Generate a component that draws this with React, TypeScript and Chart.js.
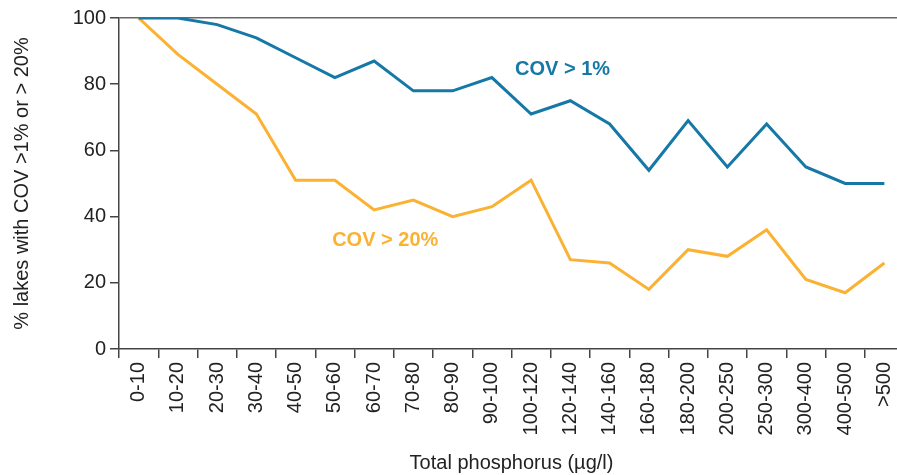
import React, { useEffect, useRef } from "react";
import { Chart, registerables } from "chart.js";

Chart.register(...registerables);

const categories = [
  "0-10", "10-20", "20-30", "30-40", "40-50", "50-60", "60-70", "70-80", "80-90", "90-100",
  "100-120", "120-140", "140-160", "160-180", "180-200", "200-250", "250-300", "300-400", "400-500", ">500",
];
const cov1 = [100, 100, 98, 94, 88, 82, 87, 78, 78, 82, 71, 75, 68, 54, 69, 55, 68, 55, 50, 50];
const cov20 = [100, 89, 80, 71, 51, 51, 42, 45, 40, 43, 51, 27, 26, 18, 30, 28, 36, 21, 17, 26];
const yTicks = [0, 20, 40, 60, 80, 100];

const BLUE = "#1578a6";
const ORANGE = "#fbb131";
const FONT = "'Liberation Sans', Arial, Helvetica, sans-serif";

// annotation anchors in data space (category index, value)
const seriesLabels = [
  { text: "COV > 1%", idx: 9.59, val: 84.3, color: BLUE },
  { text: "COV > 20%", idx: 4.93, val: 32.9, color: ORANGE },
];

const labelPlugin = {
  id: "seriesLabels",
  afterDatasetsDraw(chart: any) {
    const { ctx, scales } = chart;
    ctx.save();
    ctx.font = `bold 20px ${FONT}`;
    ctx.textAlign = "left";
    ctx.textBaseline = "middle";
    for (const l of seriesLabels) {
      ctx.fillStyle = l.color;
      ctx.fillText(l.text, scales.x.getPixelForValue(l.idx), scales.y.getPixelForValue(l.val));
    }
    ctx.restore();
  },
};

export default function App() {
  const ref = useRef<HTMLCanvasElement>(null);
  useEffect(() => {
    if (!ref.current) return;
    const chart = new Chart(ref.current, {
      type: "line",
      data: {
        labels: categories,
        datasets: [
          { label: "COV > 1%", data: cov1, borderColor: BLUE, borderWidth: 3, pointRadius: 0, tension: 0, fill: false },
          { label: "COV > 20%", data: cov20, borderColor: ORANGE, borderWidth: 3, pointRadius: 0, tension: 0, fill: false },
        ],
      },
      plugins: [labelPlugin],
      options: {
        animation: false,
        responsive: false,
        maintainAspectRatio: false,
        layout: { padding: { left: 0, top: 18, right: 16, bottom: 0 } },
        plugins: { legend: { display: false }, tooltip: { enabled: false } },
        scales: {
          x: {
            type: "category",
            offset: true,
            grid: {
              offset: true,
              drawOnChartArea: false,
              drawTicks: true,
              tickLength: 9,
              color: "#444",
              lineWidth: 1.5,
            },
            border: { display: true, color: "#444", width: 1.5 },
            ticks: {
              autoSkip: false,
              minRotation: 90,
              maxRotation: 90,
              padding: 4,
              color: "#222",
              font: { family: FONT, size: 20 },
            },
            title: {
              display: true,
              text: "Total phosphorus (µg/l)",
              color: "#222",
              font: { family: FONT, size: 20, lineHeight: 1.2 },
              padding: { top: 0, bottom: 0 },
            },
            afterFit(scale: any) {
              scale.height = 126;
            },
          },
          y: {
            min: 0,
            max: 100,
            afterBuildTicks(scale: any) {
              scale.ticks = yTicks.map((v) => ({ value: v }));
            },
            grid: {
              drawOnChartArea: true,
              drawTicks: true,
              tickLength: 9,
              color: (c: any) => (c.tick && c.tick.value === 100 ? "#666" : "rgba(0,0,0,0)"),
              tickColor: "#444",
              lineWidth: 1.5,
            },
            border: { display: true, color: "#444", width: 1.5 },
            ticks: {
              padding: 4,
              color: "#222",
              font: { family: FONT, size: 20 },
            },
            title: {
              display: true,
              text: "% lakes with COV >1% or > 20%",
              color: "#222",
              font: { family: FONT, size: 20, lineHeight: 1.2 },
              padding: { top: 10, bottom: 0 },
            },
            afterFit(scale: any) {
              scale.width = 119;
            },
          },
        },
      },
    });
    return () => chart.destroy();
  }, []);
  return (
    <div style={{ position: "fixed", left: 0, top: 0, width: 897, height: 475, overflow: "hidden", background: "#fff" }}>
      <canvas ref={ref} width={920} height={475} style={{ display: "block", width: 920, height: 475 }} />
    </div>
  );
}
